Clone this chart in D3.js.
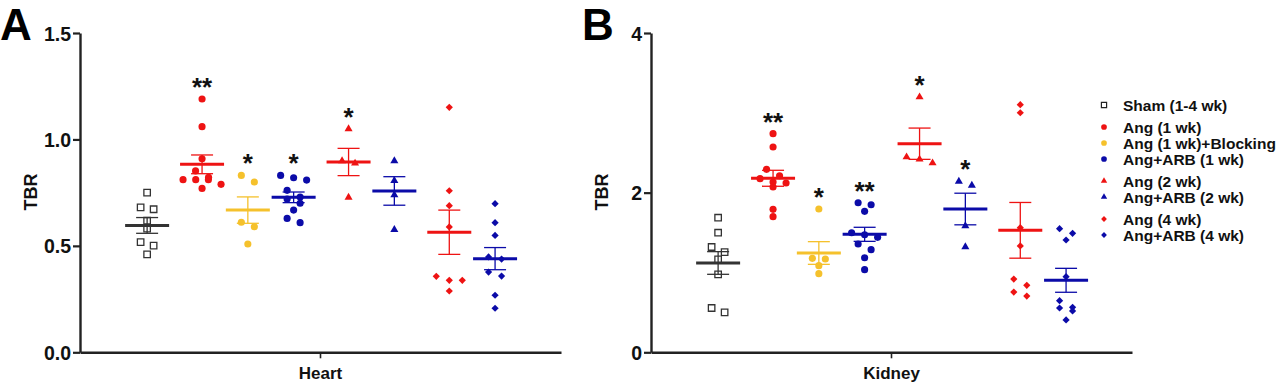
<!DOCTYPE html>
<html>
<head>
<meta charset="utf-8">
<script src="https://cdn.jsdelivr.net/npm/d3@7"></script>
<style>
body { margin: 0; background: #fff; }
text { font-family: "Liberation Sans", Arial, sans-serif; font-weight: bold; }
</style>
</head>
<body>
<div id="chart"></div>
<script>
// groups (same order in both panels)
var groups = ["Sham (1-4 wk)", "Ang (1 wk)", "Ang (1 wk)+Blocking", "Ang+ARB (1 wk)",
              "Ang (2 wk)", "Ang+ARB (2 wk)", "Ang (4 wk)", "Ang+ARB (4 wk)"]
var cluster = [0, 1, 1, 1, 2, 2, 3, 3]
var shapes = ["square", "circle", "circle", "circle", "triangle", "triangle", "diamond", "diamond"]
var colors = ["#333333", "#ee1313", "#f5c12c", "#0b0ba8", "#ee1313", "#0b0ba8", "#ee1313", "#0b0ba8"]

// Heart TBR
var heartPoints = [
	[0.750, 0.681, 0.672, 0.618, 0.581, 0.518, 0.501, 0.460],
	[1.190, 1.060, 0.909, 0.852, 0.822, 0.811, 0.811, 0.811, 0.789, 0.770],
	[0.831, 0.800, 0.611, 0.590, 0.509],
	[0.831, 0.820, 0.809, 0.761, 0.729, 0.720, 0.700, 0.668, 0.629, 0.609],
	[1.049, 0.899, 0.888, 0.728],
	[0.899, 0.806, 0.739, 0.576],
	[1.151, 0.759, 0.689, 0.589, 0.357, 0.338, 0.338, 0.288],
	[0.698, 0.609, 0.549, 0.448, 0.438, 0.377, 0.358, 0.268, 0.207]
]
var heartMean = [0.596, 0.883, 0.668, 0.728, 0.894, 0.758, 0.564, 0.440]
var heartSem = [0.037, 0.044, 0.062, 0.025, 0.064, 0.067, 0.104, 0.052]
var heartSig = ["", "**", "*", "*", "*", "", "", ""]
var heartTicks = [0, 0.5, 1.0, 1.5]

// Kidney TBR
var kidneyPoints = [
	[1.686, 1.498, 1.319, 1.256, 1.165, 0.977, 0.555, 0.501],
	[2.739, 2.572, 2.292, 2.212, 2.175, 2.133, 2.121, 2.071, 1.791, 1.699],
	[1.795, 1.177, 1.169, 1.085, 0.985],
	[1.874, 1.849, 1.766, 1.498, 1.473, 1.440, 1.357, 1.286, 1.185, 1.035],
	[3.198, 2.446, 2.418, 2.371],
	[2.142, 2.092, 1.582, 1.319],
	[3.102, 3.001, 1.561, 1.332, 0.918, 0.839, 0.755, 0.705],
	[1.549, 1.491, 1.407, 0.947, 0.647, 0.564, 0.555, 0.518, 0.405]
]
var kidneyMean = [1.119, 2.180, 1.244, 1.478, 2.613, 1.795, 1.528, 0.902]
var kidneySem = [0.142, 0.100, 0.142, 0.088, 0.196, 0.198, 0.349, 0.150]
var kidneySig = ["", "**", "*", "**", "*", "*", "", ""]
var kidneyTicks = [0, 2, 4]

const width = 1280
const height = 386
const plotW = 481
const yTop = 33, yBottom = 352.3

var svg = d3.select("#chart").append("svg")
	.attr("width", width)
	.attr("height", height)

function symbolPath(shape, small){
	var k = small ? 0.8 : 1
	if(shape == "square") return d3.symbol(d3.symbolSquare, 42 * k * k)()
	if(shape == "circle") return d3.symbol(d3.symbolCircle, 40 * k * k)()
	if(shape == "triangle") return d3.symbol(d3.symbolTriangle, 28 * k * k)()
	return d3.symbol(d3.symbolSquare, 26 * k * k)()
}

// spread points of a column sideways, row by row (prism-like scatter)
function swarm(vals, y){
	var pts = vals.map(function(v){ return {v: v, py: y(v), dx: 0} })
		.sort(function(a, b){ return a.py - b.py })
	var rows = [], cur = null
	pts.forEach(function(p){
		if(cur && p.py - cur[0].py < 7) cur.push(p)
		else { cur = [p]; rows.push(cur) }
	})
	rows.forEach(function(r){
		var s = r.length > 1 ? Math.min(13, 38 / (r.length - 1)) : 0
		r.forEach(function(p, i){ p.dx = (i - (r.length - 1) / 2) * s })
	})
	return pts
}

function drawPanel(x0, letter, letterX, label, points, means, sems, sig, ticks, fmt){
	var g = svg.append("g").attr("transform", "translate(" + x0 + ",0)")

	var x = d3.scaleLinear().domain([-1.466, 9.04]).range([0, plotW])
	var y = d3.scaleLinear().domain([0, ticks[ticks.length - 1]]).range([yBottom, yTop])
	var xPos = function(i){ return x(i + 0.2 * cluster[i]) }

	// y axis
	var yAxis = g.append("g")
		.call(d3.axisLeft(y).tickValues(ticks).tickSize(7).tickSizeOuter(0).tickPadding(2).tickFormat(d3.format(fmt)))
	yAxis.select(".domain").attr("stroke", "#222").attr("stroke-width", 2.4)
	yAxis.selectAll(".tick line").attr("stroke", "#222").attr("stroke-width", 2.2)
	yAxis.selectAll(".tick text").attr("fill", "#111").style("font-size", "19.5px").attr("dy", "0.36em")

	// x axis
	var xb = d3.scaleBand().domain([label]).range([0, plotW])
	var xAxis = g.append("g").attr("transform", "translate(0," + yBottom + ")")
		.call(d3.axisBottom(xb).tickSize(6).tickSizeOuter(0).tickPadding(9))
	xAxis.select(".domain").attr("stroke", "#222").attr("stroke-width", 2.4)
	xAxis.selectAll(".tick line").attr("stroke", "#222").attr("stroke-width", 1.6)
	xAxis.selectAll(".tick text").attr("fill", "#111").style("font-size", "17px")

	// y title
	g.append("text")
		.attr("transform", "translate(" + (-43) + "," + 192 + ") rotate(-90)")
		.attr("text-anchor", "middle")
		.style("font-size", "18px")
		.attr("fill", "#111")
		.text("TBR")

	// panel letter
	svg.append("text")
		.attr("x", letterX).attr("y", 40)
		.style("font-size", "44px")
		.attr("fill", "#000")
		.text(letter)

	for(var i = 0; i < groups.length; i++){
		var cx = xPos(i)
		var pts = swarm(points[i], y)
		var col = colors[i]
		var shape = shapes[i]

		g.append("g").selectAll("path")
			.data(pts)
			.enter()
			.append("path")
			.attr("d", symbolPath(shape))
			.attr("transform", function(d){
				return "translate(" + (cx + d.dx) + "," + d.py + ")" + (shape == "diamond" ? " rotate(45)" : "")
			})
			.attr("fill", shape == "square" ? "none" : col)
			.attr("stroke", shape == "square" ? col : "none")
			.attr("stroke-width", 1.3)

		// error bar (SEM)
		var hi = y(means[i] + sems[i]), lo = y(means[i] - sems[i])
		var eb = g.append("g").attr("stroke", col).attr("stroke-width", 1.3)
		eb.append("line").attr("x1", cx).attr("x2", cx).attr("y1", hi).attr("y2", lo)
		eb.append("line").attr("x1", cx - 11).attr("x2", cx + 11).attr("y1", hi).attr("y2", hi)
		eb.append("line").attr("x1", cx - 11).attr("x2", cx + 11).attr("y1", lo).attr("y2", lo)

		// mean
		g.append("line")
			.attr("x1", cx - 22).attr("x2", cx + 22)
			.attr("y1", y(means[i])).attr("y2", y(means[i]))
			.attr("stroke", col).attr("stroke-width", 3)

		if(sig[i]){
			g.append("text")
				.attr("x", cx)
				.attr("y", y(d3.max(points[i])) - 17 + 14)
				.attr("text-anchor", "middle")
				.style("font-size", "26px")
				.attr("fill", "#111")
				.text(sig[i])
		}
	}
}

drawPanel(80, "A", 0, "Heart", heartPoints, heartMean, heartSem, heartSig, heartTicks, ".1f")
drawPanel(651, "B", 582, "Kidney", kidneyPoints, kidneyMean, kidneySem, kidneySig, kidneyTicks, "d")

// legend
var legend = svg.append("g").attr("transform", "translate(1104,0)")
var item = legend.selectAll("g")
	.data(groups)
	.enter()
	.append("g")
	.attr("transform", function(d, i){ return "translate(0," + (105 + i * 16 + cluster[i] * 6) + ")" })

item.append("path")
	.attr("d", function(d, i){ return symbolPath(shapes[i], true) })
	.attr("transform", function(d, i){ return shapes[i] == "diamond" ? "rotate(45)" : null })
	.attr("fill", function(d, i){ return shapes[i] == "square" ? "none" : colors[i] })
	.attr("stroke", function(d, i){ return shapes[i] == "square" ? "#222" : "none" })
	.attr("stroke-width", 1.2)

item.append("text")
	.attr("x", 19)
	.attr("dy", "0.36em")
	.style("font-size", "15.5px")
	.attr("fill", "#111")
	.text(function(d){ return d })
</script>
</body>
</html>
